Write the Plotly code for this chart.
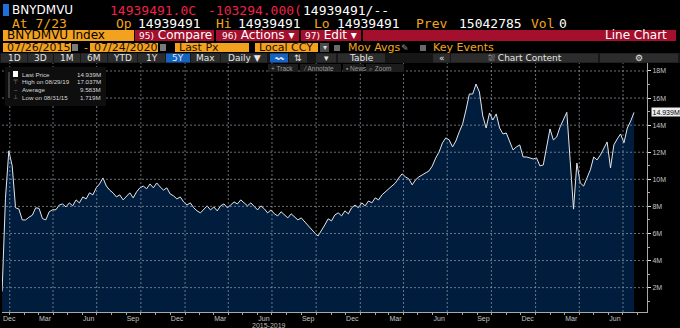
import pandas as pd
import plotly.graph_objects as go

# ---------------------------------------------------------------- data
ticker = "BNYDMVU"
week_ending = pd.date_range("2016-12-16", "2020-07-24", freq="W-FRI")
index_level_m = [
    1.719, 8.60, 12.10, 11.00, 7.90, 7.80, 7.00, 7.00, 7.20, 7.35,
    7.90, 7.85, 7.10, 7.00, 7.60, 7.75, 7.75, 8.10, 8.18, 7.96,
    8.26, 8.04, 8.48, 8.26, 8.70, 8.55, 9.00, 8.85, 9.37, 9.66,
    10.10, 9.51, 9.20, 9.00, 8.70, 8.85, 8.48, 8.78, 9.00, 8.63,
    9.07, 9.37, 9.50, 9.30, 9.66, 9.37, 9.73, 9.44, 9.20, 9.37,
    8.92, 8.78, 8.55, 8.70, 8.33, 8.10, 8.26, 7.90, 7.67, 7.52,
    7.82, 8.04, 7.74, 7.96, 7.67, 8.04, 8.18, 7.90, 8.10, 8.33,
    8.18, 8.48, 8.26, 8.04, 8.26, 7.96, 7.74, 8.04, 7.82, 7.52,
    7.74, 7.45, 7.30, 7.60, 7.37, 7.15, 7.45, 7.22, 7.00, 7.15,
    6.86, 6.56, 6.34, 6.04, 5.82, 6.19, 6.63, 7.08, 6.93, 7.37,
    7.52, 7.30, 7.67, 7.45, 7.90, 8.10, 7.90, 8.26, 8.04, 8.40,
    8.26, 8.63, 8.48, 8.85, 9.07, 9.30, 9.51, 9.73, 10.10, 10.40,
    10.18, 10.03, 9.59, 9.96, 10.18, 10.32, 10.47, 10.62, 10.99, 11.58,
    12.02, 12.69, 13.06, 12.91, 12.39, 12.83, 13.50, 14.09, 15.12, 16.30,
    16.30, 17.037, 16.45, 14.68, 13.79, 14.90, 14.38, 14.83, 13.79, 13.35,
    13.42, 12.83, 12.17, 12.39, 12.54, 11.65, 11.65, 11.58, 11.50, 11.58,
    10.99, 11.06, 12.54, 13.72, 12.91, 13.13, 13.87, 14.38, 14.95, 11.40,
    7.80, 11.20, 9.73, 9.50, 10.18, 10.70, 11.65, 11.43, 11.80, 12.32,
    12.76, 10.84, 12.54, 12.98, 13.35, 12.69, 13.79, 14.30, 14.939,
]
average_m = 9.583
high_date = "08/29/19"
low_date = "08/31/15"

# quarter boundaries carry the grid; each is labelled with the month it closes
quarter_starts = ["2017-01-01", "2017-04-01", "2017-07-01", "2017-10-01",
                  "2018-01-01", "2018-04-01", "2018-07-01", "2018-10-01",
                  "2019-01-01", "2019-04-01", "2019-07-01", "2019-10-01",
                  "2020-01-01", "2020-04-01", "2020-07-01"]
month_labels = ["Dec", "Mar", "Jun", "Sep", "Dec", "Mar", "Jun", "Sep",
                "Dec", "Mar", "Jun", "Sep", "Dec", "Mar", "Jun"]
y_ticks_m = [2, 4, 6, 8, 10, 12, 14, 16, 18]
y_tick_text = [f"{v}M" for v in y_ticks_m]

# ---------------------------------------------------------------- layout helpers
W, H = 680, 328
PL, PR, PT, PB = 2, 647, 63, 312          # plot area, pixels

def fx(px):
    return (px - PL) / (PR - PL)

def fy(py):
    return (PB - py) / (PB - PT)

shapes, notes = [], []

def box(x0, y0, x1, y1, color, layer="above"):
    shapes.append(dict(type="rect", xref="paper", yref="paper",
                       x0=fx(x0), x1=fx(x1), y0=fy(y1), y1=fy(y0),
                       fillcolor=color, line_width=0, layer=layer))

def seg(x0, y0, x1, y1, color):
    shapes.append(dict(type="line", xref="paper", yref="paper",
                       x0=fx(x0), x1=fx(x1), y0=fy(y0), y1=fy(y1),
                       line=dict(color=color, width=1), layer="above"))

def text(x, y, s, color, size, family="DejaVu Sans", anchor="left"):
    notes.append(dict(xref="paper", yref="paper", x=fx(x), y=fy(y), text=s,
                      showarrow=False, xanchor=anchor, yanchor="middle",
                      borderpad=0,
                      font=dict(color=color, size=size, family=family)))

MONO = "DejaVu Sans Mono"
NARROW = "Liberation Sans Narrow, Liberation Sans"
ORANGE = "#f4a51c"
BOXOR = "#f3a21f"
RED = "#a30f2c"
NUMRED = "#f0204a"

last_v = index_level_m[-1]
high_v = max(index_level_m)
low_v = min(index_level_m)

# row 1 : ticker and last values
box(3, 4, 9, 16, "#1f6fd8")
text(11, 10, ticker, "#ffffff", 12)
text(109, 10, "14939491.0C", NUMRED, 13, MONO)
text(207, 10, "-103294.000(", NUMRED, 13, MONO)
text(302, 10, "14939491/--", "#ffffff", 13, MONO)

# row 2 : quote line
for x, s, c in [(11, "At 7/23", ORANGE), (115, "Op", ORANGE), (137, "14939491", "#fff"),
                (215, "Hi", ORANGE), (237, "14939491", "#fff"), (313, "Lo", ORANGE),
                (336, "14939491", "#fff"), (415, "Prev", ORANGE),
                (458, "15042785", "#fff"), (530, "Vol", ORANGE), (558, "0", "#fff")]:
    text(x, 23, s, c, 13, MONO)

# row 3 : security and menu bar
box(3, 30, 134, 41, BOXOR)
text(6, 35.5, f"{ticker} Index", "#000000", 12)
for x0, x1 in [(135, 214), (216, 299), (301, 361), (363, 676)]:
    box(x0, 30, x1, 41, RED)
small = "<span style='font-size:9px'>{}</span> {}"
text(138, 35.5, small.format("95)", "Compare"), "#ffffff", 12)
text(221, 35.5, small.format("96)", "Actions ▾"), "#ffffff", 12)
text(304, 35.5, small.format("97)", "Edit ▾"), "#ffffff", 12)
text(668, 35.5, "Line Chart", "#ffffff", 12, anchor="right")

# row 4 : date range and pricing
for x0, x1, s in [(3, 71, "07/26/2015"), (90, 158, "07/24/2020"),
                  (175, 249, "Last Px"), (255, 318, "Local CCY")]:
    box(x0, 43, x1, 52, BOXOR)
    text(x0 + 3, 47.8, s, "#1a1000", 11)
box(72, 44, 78, 51, "#7a7a7a")
box(160, 44, 166, 51, "#7a7a7a")
text(83, 47.8, "-", ORANGE, 11)
box(320, 43, 329, 52, "#4a4a4a")
text(324.5, 47.8, "▾", "#dddddd", 8, anchor="center")
box(334, 45, 340, 51, "#6a6a6a")
text(347, 47.8, "Mov Avgs", ORANGE, 11)
text(400, 47.8, "✎", "#9a9a9a", 9)
box(420, 45, 426, 51, "#6a6a6a")
text(432, 47.8, "Key Events", ORANGE, 11)

# row 5 : period buttons and chart tools
box(0, 53, 680, 63, "#161616")
buttons = [(1, 27, "1D"), (28, 53, "3D"), (54, 80, "1M"), (81, 107, "6M"),
           (108, 137, "YTD"), (138, 165, "1Y"), (166, 190, "5Y"), (191, 220, "Max"),
           (221, 267, "Daily ▼"), (270, 288, "〰"), (289, 307, "⇅"), (316, 336, "▾"),
           (338, 385, "Table"), (433, 450, "«"), (451, 598, "⛆ Chart Content"),
           (600, 678, "⚙")]
for x0, x1, s in buttons:
    blue = s in ("5Y", "〰")
    box(x0, 53.5, x1, 62.5, "#1463c2" if blue else "#2c2c2c")
    text((x0 + x1) / 2, 58, s, "#e6e6e6", 9, anchor="center")

# row 6 : chart toolbar
for x0, x1, s in [(268, 298, "+ Track"), (300, 341, "⁄ Annotate"),
                  (343, 364, "▪ News"), (366, 404, "⌕ Zoom")]:
    box(x0, 64, x1, 72, "#1c1c1c")
    text(x0 + 2, 68, s, "#9a9a9a", 6.5, NARROW)

# legend panel
box(5, 67, 106, 106, "#0e0e0e")
seg(9, 72, 9, 98, "#6a6a6a")
box(13, 71, 18, 77, "#ffffff")
legend_rows = [(74, "Last Price", f"{last_v:.3f}M", ""),
               (81.5, f"High on {high_date}", f"{high_v:.3f}M", "⊤"),
               (89.5, "Average", f"{average_m:.3f}M", "–"),
               (97.5, f"Low on {low_date}", f"{low_v:.3f}M", "⊥")]
for y, lab, val, sym in legend_rows:
    if sym:
        text(15.5, y, sym, "#9a9a9a", 6, NARROW, anchor="center")
    text(21, y, lab, "#d8d8d8", 6.2, NARROW)
    text(102, y, val, "#d8d8d8", 6.2, NARROW, anchor="right")

# last price tag on the value axis
notes.append(dict(xref="paper", yref="y", x=fx(651), y=last_v,
                  text=f"{last_v:.3f}M", showarrow=False, xanchor="left",
                  yanchor="middle", bgcolor="#eeeeee", borderpad=0.5,
                  font=dict(color="#000000", size=7, family=NARROW)))

# first month label sits clear of the left edge
TICKFONT = dict(color="#c4c4c4", size=7, family=NARROW)
notes.append(dict(xref="x", yref="paper", x=quarter_starts[0], y=fy(318),
                  text=month_labels[0], showarrow=False, xanchor="center",
                  yanchor="middle", font=TICKFONT))

# period caption under the axis
notes.append(dict(xref="paper", yref="paper", x=fx(269), y=fy(325), text="2015-2019",
                  showarrow=False, xanchor="center", yanchor="middle",
                  font=dict(color="#bdbdbd", size=7, family=NARROW)))

# ---------------------------------------------------------------- figure
x_range = ["2016-12-15 19:00", "2020-08-20"]
y_range = [0.2, 18.59]

# dotted grid as line traces, drawn over the filled area
grid_x, grid_y = [], []
for d in quarter_starts:
    grid_x += [d, d, None]
    grid_y += [y_range[0], y_range[1], None]
for v in y_ticks_m:
    grid_x += [x_range[0], x_range[1], None]
    grid_y += [v, v, None]

fig = go.Figure()
fig.add_trace(go.Scatter(
    x=week_ending, y=index_level_m, mode="lines",
    line=dict(color="#e2e6ec", width=1),
    fill="tozeroy", fillcolor="#011d3d",
    showlegend=False, hoverinfo="x+y"))
fig.add_trace(go.Scatter(
    x=grid_x, y=grid_y, mode="lines", connectgaps=False,
    line=dict(color="rgba(150,158,170,0.7)", width=1, dash="2px,2px"),
    showlegend=False, hoverinfo="skip"))

fig.update_layout(
    width=W, height=H,
    margin=dict(l=PL, r=W - PR, t=PT, b=H - PB),
    paper_bgcolor="#000000", plot_bgcolor="#000000",
    xaxis=dict(type="date", range=x_range, tickmode="array",
               tickvals=quarter_starts, ticktext=[""] + month_labels[1:],
               ticklabelshift=-8, ticks="", showgrid=False,
               zeroline=False, showline=True,
               linecolor="#a8a8a8", linewidth=1, tickfont=TICKFONT,
               minor=dict(ticks="outside", ticklen=2, tickcolor="#a8a8a8",
                          dtick="M1", tick0="2017-01-01", showgrid=False)),
    yaxis=dict(side="right", range=y_range, tickmode="array",
               tickvals=y_ticks_m, ticktext=y_tick_text, ticks="outside",
               ticklen=3, tickcolor="#e0e0e0", showgrid=False,
               zeroline=False, showline=True,
               linecolor="#a8a8a8", linewidth=1, tickfont=TICKFONT,
               minor=dict(ticks="outside", ticklen=2, tickcolor="#a8a8a8",
                          dtick=1, tick0=0, showgrid=False)),
    shapes=shapes, annotations=notes,
)

fig.write_html("out.html")
